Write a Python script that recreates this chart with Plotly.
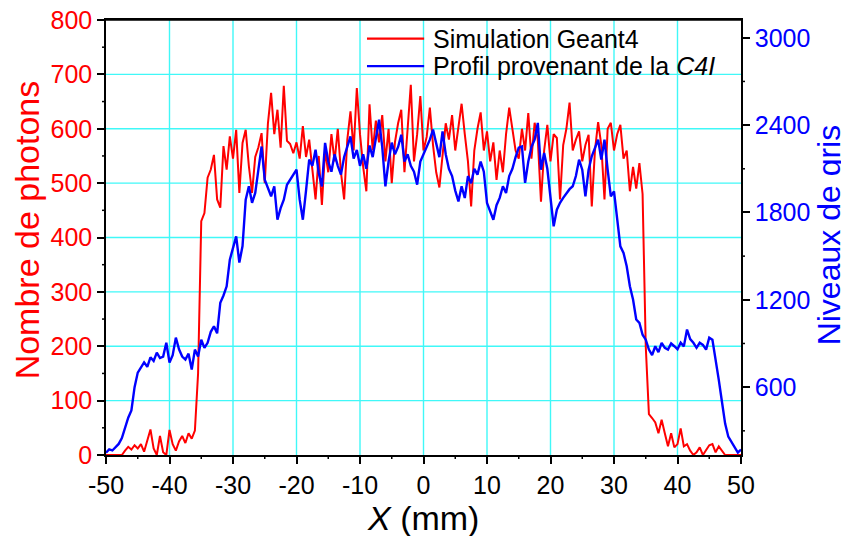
import plotly.graph_objects as go

# ---------------- data ----------------
x_start_mm = -50.0
x_step_mm = 0.5

# Simulation Geant4 : nombre de photons (left axis), x = -50 ... 50 mm, step 0.5 mm
red_photons = [
    0, 0, 0, 0, 0, 0, 8, 15, 10, 18,                      # -50 .. -45.5
    12, 20, 6, 25, 47, 12, 0, 35, 5, 0,                   # -45 .. -40.5
    46, 20, 8, 25, 35, 22, 40, 30, 45, 150,               # -40 .. -35.5
    430, 445, 510, 525, 552, 470, 455, 568, 525, 586,     # -35 .. -30.5
    545, 598, 482, 574, 598, 531, 482, 548, 566, 592,     # -30 .. -25.5
    500, 610, 666, 590, 635, 565, 679, 578, 572, 555,     # -25 .. -20.5
    575, 545, 605, 548, 580, 525, 470, 550, 460, 560,     # -20 .. -15.5
    520, 590, 540, 600, 520, 470, 580, 632, 560, 675,     # -15 .. -10.5
    590, 530, 485, 645, 560, 615, 575, 625, 540, 600,     # -10 .. -5.5
    500, 575, 610, 635, 520, 600, 681, 540, 590, 660,     # -5 .. -0.5
    560, 585, 639, 570, 520, 492, 555, 610, 580, 625,     # 0 .. 4.5
    560, 600, 646, 590, 540, 457, 560, 600, 630, 560,     # 5 .. 9.5
    595, 540, 575, 506, 560, 520, 590, 639, 600, 560,     # 10 .. 14.5
    545, 600, 560, 629, 545, 611, 580, 466, 560, 607,     # 15 .. 19.5
    540, 590, 583, 470, 570, 600, 648, 560, 580, 595,     # 20 .. 24.5
    540, 570, 589, 457, 560, 612, 570, 470, 600, 611,     # 25 .. 29.5
    560, 590, 607, 545, 560, 485, 530, 490, 537, 480,     # 30 .. 34.5
    200, 75, 68, 60, 40, 65, 40, 16, 40, 14,              # 35 .. 39.5
    20, 49, 16, 20, 8, 0, 5, 14, 0, 10,                   # 40 .. 44.5
    18, 20, 5, 16, 8, 0, 0, 0, 0, 0,                      # 45 .. 49.5
    0,                                                    # 50
]

# Profil provenant de la C4I : niveaux de gris (right axis), same x grid
blue_gris = [
    150, 172, 165, 185, 210, 250, 320, 390, 440, 600,
    700, 740, 770, 740, 805, 780, 837, 800, 810, 905,
    769, 820, 940, 860, 810, 790, 830, 721, 858, 810,
    926, 870, 905, 980, 1018, 970, 1180, 1230, 1293, 1476,
    1560, 1636, 1456, 1569, 1888, 1980, 1866, 1934, 2094, 2253,
    2025, 1960, 1911, 1980, 1750, 1830, 1888, 1990, 2025, 2060,
    2094, 1888, 1750, 1950, 2163, 2120, 2231, 2071, 1979, 2278,
    2150, 2080, 2200, 2120, 2060, 2180, 2250, 2322, 2170, 2230,
    2120, 2200, 2100, 2260, 2180, 2300, 2437, 2250, 1979, 2150,
    2280, 2200, 2250, 2334, 2150, 2200, 2120, 2080, 1991, 2150,
    2200, 2250, 2300, 2369, 2280, 2180, 2357, 2200, 2100, 2050,
    1950, 1876, 1980, 1899, 2050, 2000, 2100, 2060, 2150, 2080,
    1866, 1800, 1750, 1850, 1900, 1980, 1934, 2050, 2100, 2180,
    2245, 2253, 2003, 2150, 2250, 2300, 2415, 2094, 2209, 2100,
    1888, 1705, 1819, 1866, 1900, 1934, 1960, 1980, 2050, 2163,
    2094, 1911, 2094, 2186, 2250, 2300, 2163, 2300, 2094, 1911,
    1945, 1773, 1567, 1522, 1430, 1293, 1202, 1065, 1042, 960,
    926, 858, 820, 881, 840, 905, 870, 858, 900, 881,
    860, 905, 880, 996, 930, 905, 870, 905, 890, 858,
    940, 926, 800, 650, 500, 350, 260, 220, 185, 150,
    172,
]

x_mm = [round(x_start_mm + x_step_mm * i, 2) for i in range(len(red_photons))]

x_tickvals = [-50, -40, -30, -20, -10, 0, 10, 20, 30, 40, 50]
x_ticktext = ["-50", "-40", "-30", "-20", "-10", "0", "10", "20", "30", "40", "50"]
x_minorvals = [-45, -35, -25, -15, -5, 5, 15, 25, 35, 45]
left_tickvals = [0, 100, 200, 300, 400, 500, 600, 700, 800]
left_minorvals = [50, 150, 250, 350, 450, 550, 650, 750]
right_tickvals = [600, 1200, 1800, 2400, 3000]
right_minorvals = [300, 900, 1500, 2100, 2700]

series_names = ["Simulation Geant4", "Profil provenant de la <i>C4I</i>"]
left_title = "Nombre de photons"
right_title = "Niveaux de gris"
x_title = "<i>X</i> (mm)"

# ---------------- style ----------------
FONT = "Liberation Sans, Arial, sans-serif"
RED = "#FF0000"
BLUE = "#0000FF"
GRID = "#40F8F8"
PLOT_W, PLOT_H = 635, 435
MINOR_LEN = 4

fig = go.Figure()
fig.add_trace(go.Scatter(x=x_mm, y=red_photons, mode="lines", name=series_names[0],
                         line=dict(color=RED, width=2), yaxis="y"))
fig.add_trace(go.Scatter(x=x_mm, y=blue_gris, mode="lines", name=series_names[1],
                         line=dict(color=BLUE, width=2.4), yaxis="y2"))

tick_common = dict(ticks="outside", ticklen=7, tickwidth=1.5, tickcolor="black",
                   showline=True, linecolor="black", linewidth=1.5, zeroline=False,
                   showgrid=False, automargin=False, ticklabeloverflow="allow")

# the page body adds an 8 px offset, so the figure is 8 px smaller and margins shifted
fig.update_layout(
    template="none",
    width=841, height=528,
    margin=dict(l=98, r=108, t=12, b=81, autoexpand=False),
    paper_bgcolor="white", plot_bgcolor="white",
    showlegend=False,
    font=dict(family=FONT),
    xaxis=dict(range=[-50, 50], tickmode="array", tickvals=x_tickvals, ticktext=x_ticktext,
               mirror=True, tickfont=dict(family=FONT, size=25, color="black"), **tick_common),
    yaxis=dict(range=[0, 800], tickmode="array", tickvals=left_tickvals,
               mirror=True, tickfont=dict(family=FONT, size=25, color=RED), **tick_common),
    yaxis2=dict(range=[134, 3122], overlaying="y", side="right", tickmode="array",
                tickvals=right_tickvals,
                tickfont=dict(family=FONT, size=25, color=BLUE), **tick_common),
)

# cyan grid lines (below the data)
grid_line = dict(color=GRID, width=1.4)
for v in x_tickvals[1:-1]:
    fig.add_shape(type="line", xref="x", yref="paper", x0=v, x1=v, y0=0, y1=1,
                  line=grid_line, layer="below")
for v in left_tickvals[1:-1]:
    fig.add_shape(type="line", xref="paper", yref="y", x0=0, x1=1, y0=v, y1=v,
                  line=grid_line, layer="below")

# minor tick marks
tick_line = dict(color="black", width=1.5)
for v in x_minorvals:
    fig.add_shape(type="line", xref="x", yref="paper", x0=v, x1=v, y0=0,
                  y1=-MINOR_LEN / PLOT_H, line=tick_line)
for v in left_minorvals:
    fig.add_shape(type="line", xref="paper", yref="y", x0=0, x1=-MINOR_LEN / PLOT_W,
                  y0=v, y1=v, line=tick_line)
for v in right_minorvals:
    fig.add_shape(type="line", xref="paper", yref="y2", x0=1, x1=1 + MINOR_LEN / PLOT_W,
                  y0=v, y1=v, line=tick_line)

# top frame line
fig.add_shape(type="line", xref="paper", yref="paper", x0=0, x1=1, y0=1, y1=1,
              line=dict(color="black", width=1.5))

# axis titles
fig.add_annotation(text=left_title, xref="paper", yref="paper", x=-0.124, y=0.517,
                   textangle=-90, showarrow=False, xanchor="center", yanchor="middle",
                   font=dict(family=FONT, size=34, color=RED))
fig.add_annotation(text=right_title, xref="paper", yref="paper", x=1.140, y=0.507,
                   textangle=-90, showarrow=False, xanchor="center", yanchor="middle",
                   font=dict(family=FONT, size=32, color=BLUE))
fig.add_annotation(text=x_title, xref="paper", yref="paper", x=0.499, y=-0.144,
                   showarrow=False, xanchor="center", yanchor="middle",
                   font=dict(family=FONT, size=34, color="black"))

# legend drawn manually (long line samples as in the reference)
legend_rows_y = [0.957, 0.894]
legend_colors = [RED, BLUE]
for name, ly, col in zip(series_names, legend_rows_y, legend_colors):
    fig.add_shape(type="line", xref="paper", yref="paper", x0=0.411, x1=0.501, y0=ly, y1=ly,
                  line=dict(color=col, width=2.2))
    fig.add_annotation(text=name, xref="paper", yref="paper", x=0.512, y=ly,
                       showarrow=False, xanchor="left", yanchor="middle",
                       font=dict(family=FONT, size=25, color="black"))

fig.write_html("out.html")
